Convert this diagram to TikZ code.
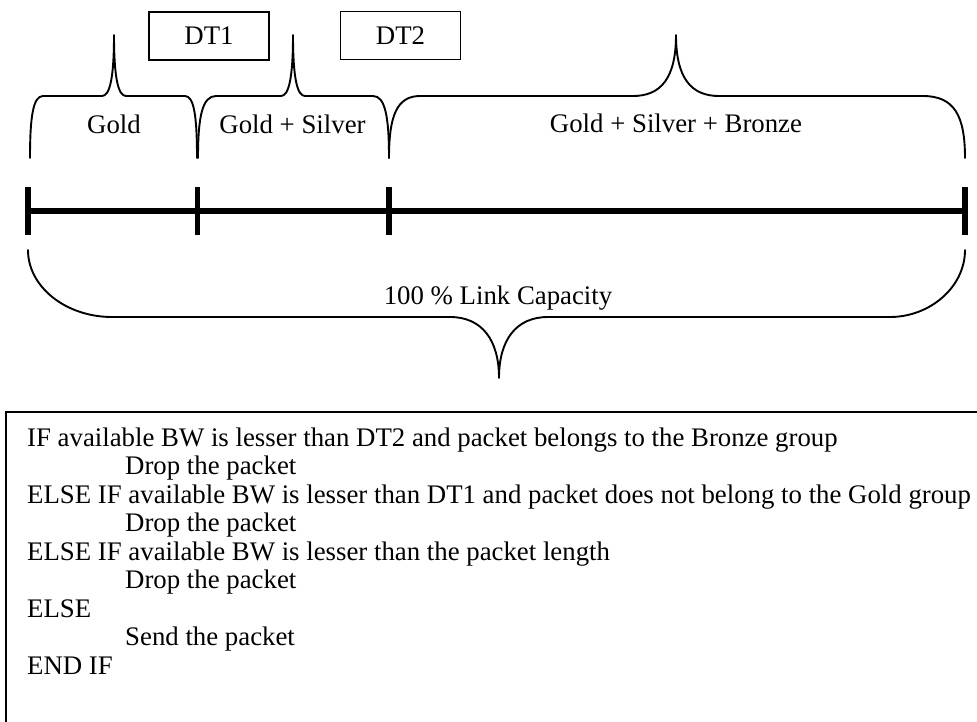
\documentclass[tikz,border=0pt]{standalone}
\usepackage{fontspec}
\setmainfont{Liberation Serif}

% Brace opening downwards with its point on top:
% #1 left end x, #2 left corner radius, #3 point x, #4 point half-width,
% #5 right end x, #6 right corner radius
\newcommand\upbrace[6]{%
  \draw[brace] (#1,158) .. controls (#1,116) and ({#1+0.25*#2},96) .. ({#1+#2},96)
    -- ({#3-#4},96) .. controls ({#3-0.35*#4},96) and (#3,78) .. (#3,35)
    .. controls (#3,78) and ({#3+0.35*#4},96) .. ({#3+#4},96)
    -- ({#5-#6},96) .. controls ({#5-0.25*#6},96) and (#5,116) .. (#5,158);}

\begin{document}
\begin{tikzpicture}[x=1pt, y=-1pt,
  every node/.style={inner sep=0pt, font=\fontsize{26.8}{28.5}\selectfont},
  brace/.style={line width=1.9pt, line join=round, line cap=round},
  dtbox/.style={draw, line width=1.8pt, minimum width=120pt, minimum height=48pt},
  seglabel/.style={anchor=base},
  bar/.style={line width=5.5pt},
  frame/.style={line width=1.8pt},
  codeline/.style={anchor=base west}]

\useasboundingbox (0,0) rectangle (977,721);

% threshold boxes
\node[dtbox] (dt1) at (209,36) {DT1};
\node[dtbox] (dt2) at (400.5,35.5) {DT2};

% braces over the three bandwidth shares
\upbrace{30}{13}{114}{12}{197}{12}
\upbrace{198}{18}{293}{12}{389}{16}
\upbrace{389}{31}{676}{43}{965}{42}

\node[seglabel] (gold) at (114,133) {Gold};
\node[seglabel] (gs)   at (292.5,133) {Gold + Silver};
\node[seglabel] (gsb)  at (676,132) {Gold + Silver + Bronze};

% link capacity bar with its division marks
\coordinate (t1) at (28,211);
\coordinate (t2) at (197.5,211);
\coordinate (t3) at (389,211);
\coordinate (t4) at (965,211);
\draw[bar] (t1) -- (t4);
\foreach \t in {t1,t2,t3,t4}
  \draw[bar] ([yshift=24pt]\t) -- ([yshift=-24pt]\t);

% brace under the whole link
\draw[brace] (28,250) .. controls (28,287) and (66,317) .. (112,317)
  -- (450,317) .. controls (482,317) and (499,340) .. (499,378)
  .. controls (499,340) and (516,317) .. (548,317)
  -- (890,317) .. controls (930,317) and (965,287) .. (965,250);
\node[seglabel] (cap) at (498,304) {100 \% Link Capacity};

% pseudocode frame
\coordinate (frtl) at (6,412);
\draw[frame] (frtl |- 0,722) -- (frtl) -- (978,412);

\node[codeline] (c1) at (27,446)   {IF available BW is lesser than DT2 and packet belongs to the Bronze group};
\node[codeline] (c2) at (125,474.5) {Drop the packet};
\node[codeline] (c3) at (27,503)   {ELSE IF available BW is lesser than DT1 and packet does not belong to the Gold group};
\node[codeline] (c4) at (125,531.5) {Drop the packet};
\node[codeline] (c5) at (27,560)   {ELSE IF available BW is lesser than the packet length};
\node[codeline] (c6) at (125,588.5) {Drop the packet};
\node[codeline] (c7) at (27,617)   {ELSE};
\node[codeline] (c8) at (125,645.5) {Send the packet};
\node[codeline] (c9) at (27,674)   {END IF};
\end{tikzpicture}
\end{document}
